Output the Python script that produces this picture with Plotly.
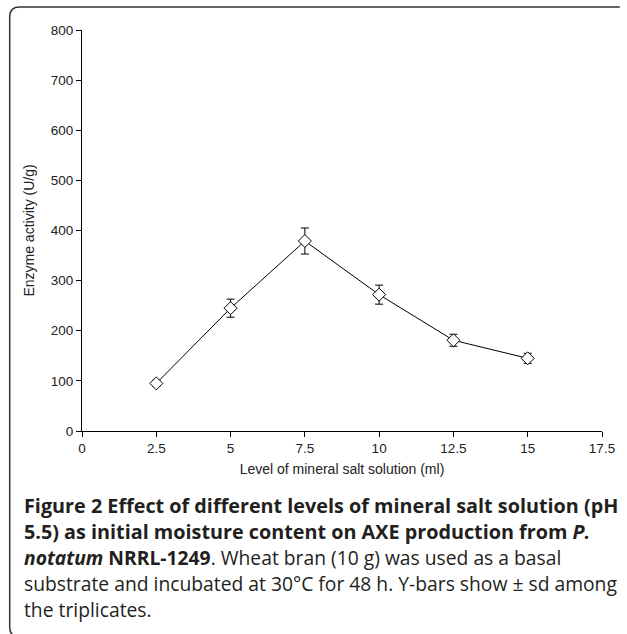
import plotly.graph_objects as go

# Data
levels = [2.5, 5, 7.5, 10, 12.5, 15]
activity = [95, 245, 379, 272, 181, 145]
sd = [6, 18, 26, 19, 12, 10]

x_ticks = [0, 2.5, 5, 7.5, 10, 12.5, 15, 17.5]
x_tick_labels = ["0", "2.5", "5", "7.5", "10", "12.5", "15", "17.5"]
y_ticks = [0, 100, 200, 300, 400, 500, 600, 700, 800]

caption_lines = [
    "<b>Figure 2 Effect of different levels of mineral salt solution (pH</b>",
    "<b>5.5) as initial moisture content on AXE production from <i>P.</i></b>",
    "<b><i>notatum</i> NRRL-1249</b>. Wheat bran (10 g) was used as a basal",
    "substrate and incubated at 30°C for 48 h. Y-bars show ± sd among",
    "the triplicates.",
]
caption_bold = [True, True, False, False, False]

W, H = 627, 634
L, R, T, B = 82, 20, 30, 203
PW, PH = W - L - R, H - T - B


def px(x):
    return (x - L) / PW


def py(y):
    return (H - B - y) / PH


fig = go.Figure()
fig.add_trace(go.Scatter(
    x=levels, y=activity,
    mode="lines+markers",
    line=dict(color="black", width=1),
    marker=dict(symbol="diamond", size=10, color="white",
                line=dict(color="black", width=1)),
    error_y=dict(type="data", array=sd, visible=True, color="black",
                 thickness=1, width=4),
    showlegend=False,
))

tick_font = dict(family="Liberation Sans, Arial, sans-serif", size=13.5, color="#222")
title_font = dict(family="Liberation Sans, Arial, sans-serif", size=14, color="#222")

fig.update_layout(
    width=W, height=H,
    margin=dict(l=L, r=R, t=T, b=B),
    paper_bgcolor="white", plot_bgcolor="white",
    xaxis=dict(range=[0, 17.5], tickvals=x_ticks, ticktext=x_tick_labels,
               showgrid=False, zeroline=False, showline=True,
               linecolor="black", linewidth=1, ticks="outside", ticklen=5,
               tickcolor="black", tickfont=tick_font,
               title=dict(text="Level of mineral salt solution (ml)",
                          font=title_font, standoff=8)),
    yaxis=dict(range=[0, 800], tickvals=y_ticks,
               showgrid=False, zeroline=False, showline=True,
               linecolor="black", linewidth=1, ticks="outside", ticklen=5,
               tickcolor="black", tickfont=tick_font,
               title=dict(text="Enzyme activity (U/g)", font=title_font,
                          standoff=12)),
)

# Frame (rounded border)
x0, y0, x1, y1 = 9, 7, 625, 637
rr = 10
path = (f"M {px(x0+rr)},{py(y1)} Q {px(x0)},{py(y1)} {px(x0)},{py(y1-rr)} "
        f"L {px(x0)},{py(y0+rr)} Q {px(x0)},{py(y0)} {px(x0+rr)},{py(y0)} "
        f"L {px(x1)},{py(y0)}")
fig.add_shape(type="path", path=path, xref="paper", yref="paper",
              line=dict(color="#333", width=1.5))

ys = [505, 531, 557, 583, 609]
for txt, yy, bold in zip(caption_lines, ys, caption_bold):
    cap_font = dict(family="Open Sans, sans-serif", size=19.8 if bold else 19.3,
                    color="#231f20")
    fig.add_annotation(text=txt, x=px(21), y=py(yy), xref="paper", yref="paper",
                       xanchor="left", yanchor="middle", showarrow=False,
                       font=cap_font, align="left")

fig.write_html("out.html")
